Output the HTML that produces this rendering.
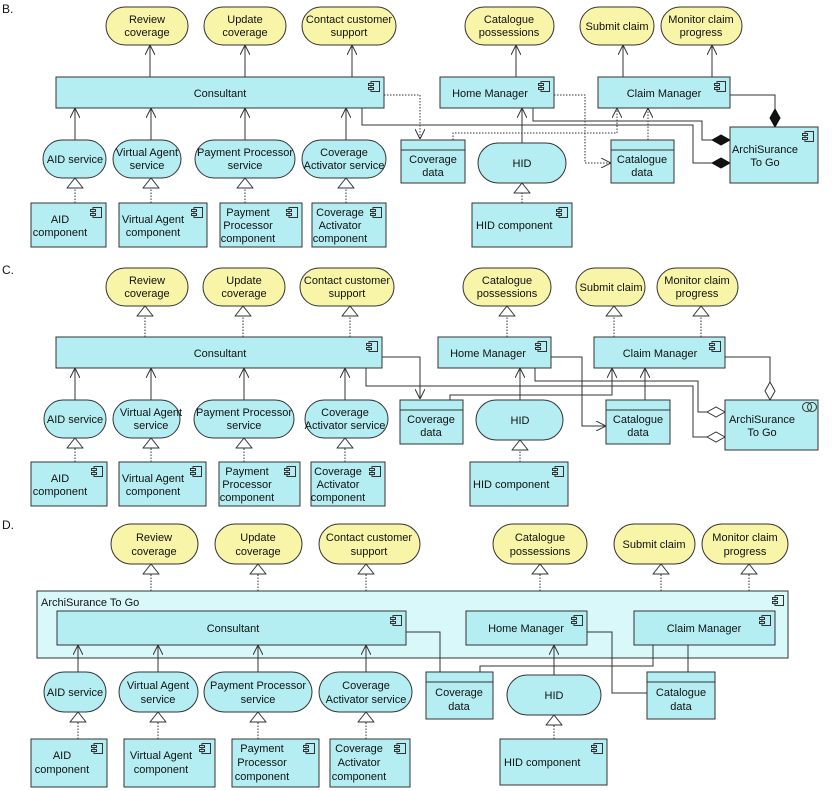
<!DOCTYPE html>
<html><head><meta charset="utf-8"><style>
html,body{margin:0;padding:0;background:#fff;}
svg{display:block;font-family:"Liberation Sans",sans-serif;font-size:11px;}
.c{fill:#b4eef2;stroke:#333;stroke-width:1;}
.y{fill:#f8f4a8;stroke:#333;stroke-width:1;}
.k{fill:#d8f8fa;stroke:#333;stroke-width:1;}
.l{fill:none;stroke:#333;stroke-width:1;}
.d{fill:none;stroke:#333;stroke-width:1;stroke-dasharray:1.5,1.5;}
text{fill:#111;text-anchor:middle;}
.s{text-anchor:start;}
</style></head><body>
<svg width="832" height="791" viewBox="0 0 832 791" xmlns="http://www.w3.org/2000/svg">
<defs>
<marker id="oa" viewBox="0 0 10 10" refX="10" refY="5" markerWidth="10" markerHeight="10" markerUnits="userSpaceOnUse" orient="auto"><path d="M0,0 L10,5 L0,10" fill="none" stroke="#333" stroke-dasharray="none"/></marker>
<marker id="tri" viewBox="0 0 11 17" refX="10.5" refY="8.5" markerWidth="11" markerHeight="17" markerUnits="userSpaceOnUse" orient="auto"><path d="M0.5,0.5 L10.5,8.5 L0.5,16.5 Z" fill="#fff" stroke="#333" stroke-dasharray="none"/></marker>
<marker id="fd" viewBox="0 0 19 11" refX="18.5" refY="5.5" markerWidth="19" markerHeight="11" markerUnits="userSpaceOnUse" orient="auto"><path d="M0.5,5.5 L9.5,0.5 L18.5,5.5 L9.5,10.5 Z" fill="#111" stroke="#111"/></marker>
<marker id="hd" viewBox="0 0 19 11" refX="18.5" refY="5.5" markerWidth="19" markerHeight="11" markerUnits="userSpaceOnUse" orient="auto"><path d="M0.5,5.5 L9.5,0.5 L18.5,5.5 L9.5,10.5 Z" fill="#fff" stroke="#333"/></marker>
<symbol id="ci" viewBox="0 0 12 11" width="12" height="11"><rect x="3" y="0.5" width="8.5" height="10" fill="none" stroke="#333"/><rect x="0.5" y="2.5" width="5" height="2" fill="#b4eef2" stroke="#333"/><rect x="0.5" y="6.5" width="5" height="2" fill="#b4eef2" stroke="#333"/></symbol>
</defs>

<!-- ================= B ================= -->
<text x="2" y="13" class="s" style="font-size:12px">B.</text>
<!-- connectors B -->
<path class="l" d="M150,77V45" marker-end="url(#oa)"/>
<path class="l" d="M245,77V45" marker-end="url(#oa)"/>
<path class="l" d="M352,77V45" marker-end="url(#oa)"/>
<path class="l" d="M516,77V45" marker-end="url(#oa)"/>
<path class="l" d="M623,77V45" marker-end="url(#oa)"/>
<path class="l" d="M712,77V45" marker-end="url(#oa)"/>
<path class="l" d="M75,140V108" marker-end="url(#oa)"/>
<path class="l" d="M151,140V108" marker-end="url(#oa)"/>
<path class="l" d="M245,140V108" marker-end="url(#oa)"/>
<path class="l" d="M346,140V108" marker-end="url(#oa)"/>
<path class="d" d="M75,203V178" marker-end="url(#tri)"/>
<path class="d" d="M151,203V178" marker-end="url(#tri)"/>
<path class="d" d="M245,203V178" marker-end="url(#tri)"/>
<path class="d" d="M346,203V178" marker-end="url(#tri)"/>
<path class="l" d="M522,143V108" marker-end="url(#oa)"/>
<path class="d" d="M522,203V183" marker-end="url(#tri)"/>
<path class="d" d="M384,95H420V139" marker-end="url(#oa)"/>
<path class="l" d="M362,108V125H693V163H730" marker-end="url(#fd)"/>
<path class="l" d="M533,108V121H702V140H730" marker-end="url(#fd)"/>
<path class="l" d="M730,95H775V127" marker-end="url(#fd)"/>
<path class="d" d="M453,140V133H617V108" marker-end="url(#oa)"/>
<path class="d" d="M554,95H585V163H611" marker-end="url(#oa)"/>
<path class="d" d="M648,140V108" marker-end="url(#oa)"/>
<!-- activities B -->
<rect class="y" x="106" y="7" width="82" height="38" rx="19"/><text x="147" y="23">Review</text><text x="147" y="36">coverage</text>
<rect class="y" x="204" y="7" width="82" height="38" rx="19"/><text x="245" y="23">Update</text><text x="245" y="36">coverage</text>
<rect class="y" x="302" y="7" width="94" height="38" rx="19"/><text x="349" y="23">Contact customer</text><text x="349" y="36">support</text>
<rect class="y" x="465" y="7" width="89" height="38" rx="19"/><text x="509" y="23">Catalogue</text><text x="509" y="36">possessions</text>
<rect class="y" x="580" y="7" width="74" height="38" rx="19"/><text x="617" y="30">Submit claim</text>
<rect class="y" x="661" y="7" width="81" height="38" rx="19"/><text x="701" y="23">Monitor claim</text><text x="701" y="36">progress</text>
<!-- components B -->
<rect class="c" x="56" y="77" width="328" height="31"/><text x="220" y="97">Consultant</text><use href="#ci" x="368" y="81"/>
<rect class="c" x="440" y="77" width="114" height="31"/><text x="490" y="97">Home Manager</text><use href="#ci" x="538" y="81"/>
<rect class="c" x="598" y="77" width="132" height="31"/><text x="664" y="97">Claim Manager</text><use href="#ci" x="714" y="81"/>
<rect class="c" x="43" y="140" width="63" height="38" rx="19"/><text x="75" y="163">AID service</text>
<rect class="c" x="113" y="140" width="68" height="38" rx="19"/><text x="147" y="156">Virtual Agent</text><text x="147" y="169">service</text>
<rect class="c" x="195" y="140" width="100" height="38" rx="19"/><text x="245" y="156">Payment Processor</text><text x="245" y="169">service</text>
<rect class="c" x="302" y="140" width="84" height="38" rx="19"/><text x="344" y="156">Coverage</text><text x="344" y="169">Activator service</text>
<rect class="c" x="31" y="203" width="75" height="44"/><text x="60" y="223">AID</text><text x="60" y="236">component</text><use href="#ci" x="90" y="207"/>
<rect class="c" x="119" y="203" width="88" height="44"/><text x="153" y="223">Virtual Agent</text><text x="153" y="236">component</text><use href="#ci" x="191" y="207"/>
<rect class="c" x="220" y="203" width="82" height="44"/><text x="248" y="216">Payment</text><text x="248" y="229">Processor</text><text x="248" y="242">component</text><use href="#ci" x="286" y="207"/>
<rect class="c" x="312" y="203" width="74" height="44"/><text x="340" y="216">Coverage</text><text x="340" y="229">Activator</text><text x="340" y="242">component</text><use href="#ci" x="370" y="207"/>
<rect class="c" x="401" y="140" width="64" height="43"/><line class="l" x1="401" y1="150" x2="465" y2="150"/><text x="433" y="163">Coverage</text><text x="433" y="176">data</text>
<rect class="c" x="478" y="143" width="88" height="40" rx="20"/><text x="522" y="167">HID</text>
<rect class="c" x="472" y="203" width="100" height="44"/><text x="476" y="229" class="s">HID component</text><use href="#ci" x="556" y="207"/>
<rect class="c" x="611" y="140" width="63" height="43"/><line class="l" x1="611" y1="150" x2="674" y2="150"/><text x="642" y="163">Catalogue</text><text x="642" y="176">data</text>
<rect class="c" x="730" y="127" width="88" height="56"/><text x="765" y="153">ArchiSurance</text><text x="765" y="166">To Go</text><use href="#ci" x="802" y="131"/>

<!-- ================= C ================= -->
<text x="2" y="274" class="s" style="font-size:12px">C.</text>
<path class="d" d="M145,337V306" marker-end="url(#tri)"/>
<path class="d" d="M243,337V306" marker-end="url(#tri)"/>
<path class="d" d="M350,337V306" marker-end="url(#tri)"/>
<path class="d" d="M507,337V306" marker-end="url(#tri)"/>
<path class="d" d="M614,337V306" marker-end="url(#tri)"/>
<path class="d" d="M701,337V306" marker-end="url(#tri)"/>
<path class="l" d="M75,400V368" marker-end="url(#oa)"/>
<path class="l" d="M151,400V368" marker-end="url(#oa)"/>
<path class="l" d="M244,400V368" marker-end="url(#oa)"/>
<path class="l" d="M345,400V368" marker-end="url(#oa)"/>
<path class="d" d="M75,462V438" marker-end="url(#tri)"/>
<path class="d" d="M151,462V438" marker-end="url(#tri)"/>
<path class="d" d="M244,462V438" marker-end="url(#tri)"/>
<path class="d" d="M345,462V438" marker-end="url(#tri)"/>
<path class="l" d="M520,400V368" marker-end="url(#oa)"/>
<path class="d" d="M520,462V440" marker-end="url(#tri)"/>
<path class="l" d="M382,357H420V399" marker-end="url(#oa)"/>
<path class="l" d="M366,368V386H693V437H725" marker-end="url(#hd)"/>
<path class="l" d="M535,368V381H698V412H725" marker-end="url(#hd)"/>
<path class="l" d="M450,400V395H612V368" marker-end="url(#oa)"/>
<path class="l" d="M551,357H582V426H606" marker-end="url(#oa)"/>
<path class="l" d="M645,400V368" marker-end="url(#oa)"/>
<path class="l" d="M725,357H770V400" marker-end="url(#hd)"/>
<rect class="y" x="106" y="268" width="82" height="38" rx="19"/><text x="147" y="284">Review</text><text x="147" y="297">coverage</text>
<rect class="y" x="203" y="268" width="82" height="38" rx="19"/><text x="244" y="284">Update</text><text x="244" y="297">coverage</text>
<rect class="y" x="300" y="268" width="94" height="38" rx="19"/><text x="347" y="284">Contact customer</text><text x="347" y="297">support</text>
<rect class="y" x="463" y="268" width="88" height="38" rx="19"/><text x="507" y="284">Catalogue</text><text x="507" y="297">possessions</text>
<rect class="y" x="576" y="268" width="69" height="38" rx="19"/><text x="611" y="291">Submit claim</text>
<rect class="y" x="657" y="268" width="81" height="38" rx="19"/><text x="697" y="284">Monitor claim</text><text x="697" y="297">progress</text>
<rect class="c" x="56" y="337" width="326" height="31"/><text x="220" y="357">Consultant</text><use href="#ci" x="366" y="341"/>
<rect class="c" x="438" y="337" width="113" height="31"/><text x="488" y="357">Home Manager</text><use href="#ci" x="535" y="341"/>
<rect class="c" x="594" y="337" width="131" height="31"/><text x="660" y="357">Claim Manager</text><use href="#ci" x="709" y="341"/>
<rect class="c" x="44" y="400" width="62" height="38" rx="19"/><text x="75" y="423">AID service</text>
<rect class="c" x="113" y="400" width="67" height="38" rx="19"/><text x="151" y="416">Virtual Agent</text><text x="151" y="429">service</text>
<rect class="c" x="194" y="400" width="100" height="38" rx="19"/><text x="244" y="416">Payment Processor</text><text x="244" y="429">service</text>
<rect class="c" x="305" y="400" width="83" height="38" rx="19"/><text x="345" y="416">Coverage</text><text x="345" y="429">Activator service</text>
<rect class="c" x="31" y="462" width="76" height="44"/><text x="60" y="482">AID</text><text x="60" y="495">component</text><use href="#ci" x="91" y="466"/>
<rect class="c" x="119" y="462" width="87" height="44"/><text x="153" y="482">Virtual Agent</text><text x="153" y="495">component</text><use href="#ci" x="190" y="466"/>
<rect class="c" x="219" y="462" width="81" height="44"/><text x="247" y="475">Payment</text><text x="247" y="488">Processor</text><text x="247" y="501">component</text><use href="#ci" x="284" y="466"/>
<rect class="c" x="311" y="462" width="74" height="44"/><text x="338" y="475">Coverage</text><text x="338" y="488">Activator</text><text x="338" y="501">component</text><use href="#ci" x="369" y="466"/>
<rect class="c" x="400" y="400" width="63" height="44"/><line class="l" x1="400" y1="410" x2="463" y2="410"/><text x="431" y="423">Coverage</text><text x="431" y="436">data</text>
<rect class="c" x="476" y="400" width="87" height="40" rx="20"/><text x="520" y="424">HID</text>
<rect class="c" x="470" y="462" width="98" height="44"/><text x="473" y="488" class="s">HID component</text><use href="#ci" x="552" y="466"/>
<rect class="c" x="606" y="400" width="64" height="44"/><line class="l" x1="606" y1="410" x2="670" y2="410"/><text x="638" y="423">Catalogue</text><text x="638" y="436">data</text>
<rect class="c" x="725" y="400" width="93" height="50"/><text x="762" y="423">ArchiSurance</text><text x="762" y="436">To Go</text>
<circle cx="807" cy="407" r="4.5" fill="none" stroke="#333"/><circle cx="812" cy="407" r="4.5" fill="none" stroke="#333"/>

<!-- ================= D ================= -->
<text x="2" y="529" class="s" style="font-size:12px">D.</text>
<path class="d" d="M151,591V564" marker-end="url(#tri)"/>
<path class="d" d="M258,591V564" marker-end="url(#tri)"/>
<path class="d" d="M366,591V564" marker-end="url(#tri)"/>
<path class="d" d="M540,591V564" marker-end="url(#tri)"/>
<path class="d" d="M661,591V564" marker-end="url(#tri)"/>
<path class="d" d="M749,591V564" marker-end="url(#tri)"/>
<rect class="y" x="111" y="524" width="87" height="40" rx="20"/><text x="154" y="541">Review</text><text x="154" y="555">coverage</text>
<rect class="y" x="215" y="524" width="87" height="40" rx="20"/><text x="258" y="541">Update</text><text x="258" y="555">coverage</text>
<rect class="y" x="319" y="524" width="101" height="40" rx="20"/><text x="369" y="541">Contact customer</text><text x="369" y="555">support</text>
<rect class="y" x="493" y="524" width="94" height="40" rx="20"/><text x="540" y="541">Catalogue</text><text x="540" y="555">possessions</text>
<rect class="y" x="614" y="524" width="81" height="40" rx="20"/><text x="654" y="548">Submit claim</text>
<rect class="y" x="702" y="524" width="86" height="40" rx="20"/><text x="745" y="541">Monitor claim</text><text x="745" y="555">progress</text>
<rect class="k" x="37" y="591" width="751" height="67"/><text x="41" y="606" class="s">ArchiSurance To Go</text><use href="#ci" x="772" y="595"/>
<rect class="c" x="57" y="611" width="349" height="34"/><text x="233" y="632">Consultant</text><use href="#ci" x="390" y="615"/>
<rect class="c" x="466" y="611" width="121" height="34"/><text x="526" y="632">Home Manager</text><use href="#ci" x="571" y="615"/>
<rect class="c" x="634" y="611" width="141" height="34"/><text x="704" y="632">Claim Manager</text><use href="#ci" x="759" y="615"/>
<path class="l" d="M78,672V645" marker-end="url(#oa)"/>
<path class="l" d="M158,672V645" marker-end="url(#oa)"/>
<path class="l" d="M258,672V645" marker-end="url(#oa)"/>
<path class="l" d="M366,672V645" marker-end="url(#oa)"/>
<path class="d" d="M78,739V712" marker-end="url(#tri)"/>
<path class="d" d="M158,739V712" marker-end="url(#tri)"/>
<path class="d" d="M258,739V712" marker-end="url(#tri)"/>
<path class="d" d="M366,739V712" marker-end="url(#tri)"/>
<path class="l" d="M554,675V645" marker-end="url(#oa)"/>
<path class="d" d="M554,739V715" marker-end="url(#tri)"/>
<path class="l" d="M406,632H440V672"/>
<path class="l" d="M480,672V666H653V645"/>
<path class="l" d="M587,632H612V693H647"/>
<path class="l" d="M688,645V672"/>
<rect class="c" x="44" y="672" width="62" height="40" rx="20"/><text x="75" y="696">AID service</text>
<rect class="c" x="119" y="672" width="79" height="40" rx="20"/><text x="158" y="689">Virtual Agent</text><text x="158" y="703">service</text>
<rect class="c" x="204" y="672" width="108" height="40" rx="20"/><text x="258" y="689">Payment Processor</text><text x="258" y="703">service</text>
<rect class="c" x="319" y="672" width="93" height="40" rx="20"/><text x="366" y="689">Coverage</text><text x="366" y="703">Activator service</text>
<rect class="c" x="31" y="739" width="76" height="48"/><text x="62" y="759">AID</text><text x="62" y="773">component</text><use href="#ci" x="91" y="743"/>
<rect class="c" x="124" y="739" width="91" height="48"/><text x="161" y="759">Virtual Agent</text><text x="161" y="773">component</text><use href="#ci" x="199" y="743"/>
<rect class="c" x="232" y="739" width="87" height="48"/><text x="262" y="752">Payment</text><text x="262" y="766">Processor</text><text x="262" y="780">component</text><use href="#ci" x="303" y="743"/>
<rect class="c" x="330" y="739" width="80" height="48"/><text x="359" y="752">Coverage</text><text x="359" y="766">Activator</text><text x="359" y="780">component</text><use href="#ci" x="394" y="743"/>
<rect class="c" x="426" y="672" width="67" height="47"/><line class="l" x1="426" y1="682" x2="493" y2="682"/><text x="459" y="696">Coverage</text><text x="459" y="710">data</text>
<rect class="c" x="507" y="675" width="94" height="40" rx="20"/><text x="554" y="699">HID</text>
<rect class="c" x="500" y="739" width="107" height="46"/><text x="504" y="766" class="s">HID component</text><use href="#ci" x="591" y="743"/>
<rect class="c" x="647" y="672" width="68" height="47"/><line class="l" x1="647" y1="682" x2="715" y2="682"/><text x="681" y="696">Catalogue</text><text x="681" y="710">data</text>
</svg>
</body></html>
